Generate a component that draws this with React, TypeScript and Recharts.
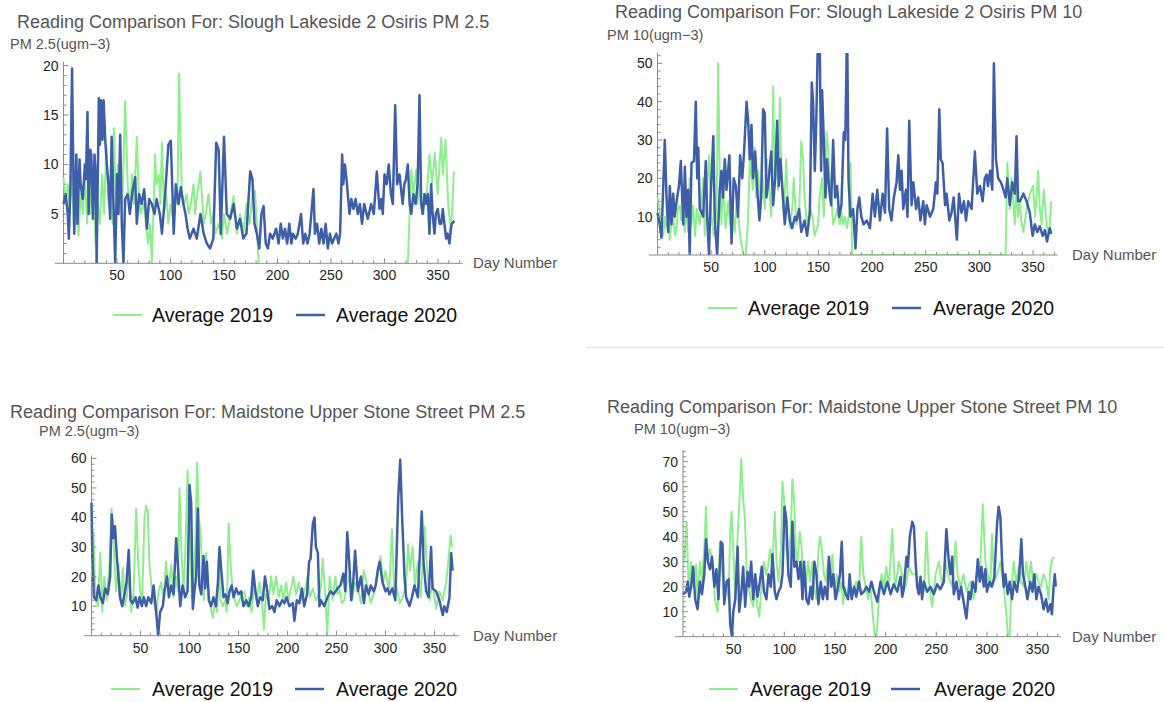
import React from 'react';
import { LineChart, Line, XAxis, YAxis, ReferenceLine } from 'recharts';

type Pt = [number, number | null];

// ---------- labels ----------
const PANEL_TITLES = [
  'Reading Comparison For: Slough Lakeside 2 Osiris PM 2.5',
  'Reading Comparison For: Slough Lakeside 2 Osiris PM 10',
  'Reading Comparison For: Maidstone Upper Stone Street PM 2.5',
  'Reading Comparison For: Maidstone Upper Stone Street PM 10',
];
const PANEL_Y_LABELS = ['PM 2.5(ugm\u22123)', 'PM 10(ugm\u22123)', 'PM 2.5(ugm\u22123)', 'PM 10(ugm\u22123)'];
const X_AXIS_LABEL = 'Day Number';
const SERIES_NAMES = ['Average 2019', 'Average 2020'];

// ---------- ticks ----------
const DAY_TICKS = [10, 20, 30, 40, 50, 60, 70, 80, 90, 100, 110, 120, 130, 140, 150, 160, 170, 180, 190, 200, 210, 220, 230, 240, 250, 260, 270, 280, 290, 300, 310, 320, 330, 340, 350, 360, 370];
const DAY_TICK_LABELS = [50, 100, 150, 200, 250, 300, 350];
const Y_TICKS_P1 = [1, 2, 3, 4, 5, 6, 7, 8, 9, 10, 11, 12, 13, 14, 15, 16, 17, 18, 19, 20];
const Y_LABELS_P1 = [5, 10, 15, 20];
const Y_TICKS_P2 = [2, 4, 6, 8, 10, 12, 14, 16, 18, 20, 22, 24, 26, 28, 30, 32, 34, 36, 38, 40, 42, 44, 46, 48, 50, 52];
const Y_LABELS_P2 = [10, 20, 30, 40, 50];
const Y_TICKS_P3 = [2, 4, 6, 8, 10, 12, 14, 16, 18, 20, 22, 24, 26, 28, 30, 32, 34, 36, 38, 40, 42, 44, 46, 48, 50, 52, 54, 56, 58, 60];
const Y_LABELS_P3 = [10, 20, 30, 40, 50, 60];
const Y_TICKS_P4 = [2, 4, 6, 8, 10, 12, 14, 16, 18, 20, 22, 24, 26, 28, 30, 32, 34, 36, 38, 40, 42, 44, 46, 48, 50, 52, 54, 56, 58, 60, 62, 64, 66, 68, 70, 72, 74];
const Y_LABELS_P4 = [10, 20, 30, 40, 50, 60, 70];

// ---------- data: [day, value] ----------
const slough25_2019: Pt[] = [[0,8.7],[2,6],[4,8],[6,5.5],[8,9],[10,3],[12,6],[14,2.8],[16,7],[18,5],[20,9],[22,4],[24,10],[26,5],[28,8],[30,2],[32,6],[34,4],[36,9],[38,5],[40,12],[42,6],[44,9],[46,4],[47,13.7],[49,7],[51,10],[53,10],[55,6],[57.6,16.4],[60,8],[62,5],[64,9],[66,6],[68.5,12.8],[70,8],[72,5],[75,6],[77,4],[79,2],[81,4],[82.5,0],[84,5],[85.6,11],[87,8],[89,9],[90.5,6],[92,12.2],[94,5],[96,7],[98,4],[100,6],[103,4],[105,7],[106.5,6],[108,19.2],[110.6,7],[113,6],[115,7],[117,5],[119,6],[121.5,8],[123,5],[125,7],[128,9.3],[131,4],[133,5],[135.5,7],[138,4],[140,5],[142,3],[145,4],[148,2.5],[150,5],[153,3],[156,5],[159,6.8],[162,3],[165,5],[168,3],[171,6],[174,4],[177,7.5],[179,7.3],[181,3],[182.5,0],[250,null],[321.8,0],[325,9.5],[327,7],[329.6,9.5],[331,6],[333,8],[335,5],[337,7],[339,6],[342,11],[344.5,8],[347,11.2],[349.8,7],[353,12.7],[354.5,9],[357,12.5],[359.5,6],[362.3,3],[364.8,9.3]];
const slough25_2020: Pt[] = [[0,6],[2,7],[4,5],[5,2.5],[6.5,8],[8,19.7],[9,11],[10,3],[12,11],[13,4],[15,10.5],[16,8],[18,6.5],[20,10],[21,8.5],[22.4,15.3],[23.5,5],[25,11.5],[26,11],[27.5,4.5],[29,11],[30,9],[31,0],[33,16.7],[34,12],[35,16.5],[36.4,12.5],[37.5,16.5],[39,12.5],[40.5,10],[42,8],[43.6,4.5],[45,12.8],[46.7,6],[48.3,0],[50,9],[51.4,5],[53,13],[54.5,4],[56,0],[57.6,6.5],[60,7],[62,5],[64.5,7.3],[67,8.7],[68.5,4],[70.7,7],[73,6],[75.4,7.5],[78,3.5],[80,6.5],[82.5,6],[85,5],[87,6.5],[90,5],[92,3],[95,7],[98,12],[100.3,12.4],[103,3],[105,8],[107.5,6],[109.7,7.7],[112,6],[114,5],[116,3.5],[118,2.5],[121.5,3.5],[124.6,2.5],[128,5],[131,3],[134,2],[137,1.5],[140,2.5],[142.7,12.2],[145,11.5],[147,3],[150,12.8],[152.6,5],[155.8,4.5],[159,6],[162,3.5],[165,4.5],[168,2.5],[171,3],[174.5,9.3],[176.6,8.5],[178.5,4],[180.7,3],[183,1.5],[185,5],[187,5.8],[189,2],[191,1.5],[193,3],[195.6,2.5],[198.7,3.5],[201,2],[203,4],[205,2.5],[207,3.5],[209,2],[211,4],[213,2],[214.3,3],[217,2.5],[219,3],[222,5],[224,2],[226,3],[228,2],[230,3],[233.6,7.5],[235,3],[237,4],[239,2],[241,3.5],[243,2],[245,4],[247,1.5],[249,3],[251,2],[253,2.5],[255,3],[257,2],[258.5,3],[260.4,11],[261.5,8],[263,10],[264.5,8.5],[267.3,5],[269,6.5],[271,5.5],[273,6.5],[275,5],[277,6],[279,4],[281,6],[284.4,4.5],[287.5,6],[290,5],[292.8,9.3],[295.3,5.5],[297,6.5],[298.4,5],[300,9],[302,8],[304,10],[306,7],[307.8,6],[310,16],[311.8,8],[314,9],[317,6],[318.5,8],[320,8.5],[321.8,10],[323.5,6],[325,5],[327,7],[329,6],[331,8],[332.7,17],[334.3,6],[335.8,5],[337.5,7],[339,6],[340.5,7],[342,3],[343.6,8],[345,5],[346.7,3],[348,5],[349.8,5.5],[351.5,4],[353,4],[354.5,5.5],[356,4],[357.6,2.5],[359,3],[360.7,2],[362,3.5],[362.9,4],[365.4,4.3]];

const slough10_2019: Pt[] = [[0,15],[1.5,13],[3,8],[5.3,5],[7,10],[8.4,7],[10,9],[11.5,4],[13,8],[14.6,10],[16.5,5],[17.7,7],[19,12],[20.8,13],[22,9],[24,10],[25.5,6],[27,13],[28.6,6],[30,20],[31.7,8],[33.3,13],[35,5],[36.6,12],[39.4,8],[42.5,20],[44,5],[45.6,15],[48,26],[50.3,10],[52.5,5],[55,10],[56.5,50],[58,20],[59.6,8],[61,20],[63.4,7],[66,14],[67.4,8],[70,12],[72,6],[74,15],[76,8],[78,3],[80.4,0],[82.3,0],[84.5,10],[86,25],[89,17],[90.7,28],[92,15],[93.8,22],[96,12],[97.8,21],[100,12],[102,25],[104.7,15],[106,10],[107.8,44],[109.3,20],[111,25],[112.4,17],[114,41],[115.5,20],[117.7,10],[120,25],[121.7,12],[123.3,7],[125.5,12],[127,20],[129.5,8],[132,11],[134,29.7],[135.7,25],[137,15],[139.4,8],[142,12],[144.4,10],[146.6,5],[149.7,8],[151,15],[153.4,20],[155,10],[157.5,32],[159,28],[160.6,20],[162,15],[163.7,8],[166,10],[167.4,12],[170,8],[171.4,11],[173,8],[174.5,10],[176.7,7],[178.6,11],[180,24],[181.4,0],[324.4,0],[326,24],[328.4,12],[330,20],[331.6,14],[333,8],[334.6,18],[336,10],[337.7,14],[339,9],[341,6],[344,12],[347,16],[350,18],[352,10],[354.8,22],[356.3,12],[358,8],[360,17],[362,10],[364,5],[365.6,8],[367,14]];
const slough10_2020: Pt[] = [[0,11],[2,8],[3.7,4.5],[6.8,30],[8.4,15],[10,6],[11.5,18],[13,8],[14.6,16],[16,10],[18.3,15],[20,18],[21.7,24.5],[24,8],[25.5,23],[27,10],[28.6,17],[30,0],[31.7,24],[34,24.5],[35.7,40],[37,20],[38,28],[39.4,12],[41.3,11],[42.5,10],[45,24.5],[46.3,10],[48,0],[49.4,14],[52,31],[53.4,9],[55.6,0],[58,17],[59.6,22],[61,15],[62.7,25],[64.3,17],[67,26],[69,3],[71,20],[73,18],[75,10],[77,26],[79,20],[80.7,27],[83,40],[84.5,35],[86,25],[87.6,34],[89,20],[91,27],[93,17],[95,9],[96.6,15],[98.4,38],[100,37],[101.5,15],[103.7,20],[106,27],[107.8,13],[109.6,20],[111.5,35],[113,18],[114.6,25],[116.5,17],[118.6,8],[121,15],[123.3,9],[125.5,7],[128,10],[129.5,9],[132,12],[134,6],[137,9],[139.4,5],[142,11],[143.8,45],[145,40],[146.6,22],[148,35],[149.7,60],[151,60],[152.5,22],[153.4,43],[155,30],[156.5,15],[158,25],[160,17],[161.8,13],[163.7,30],[165.5,15],[167.4,18],[169.3,10],[171.4,13],[173.6,32],[175,30],[176.7,60],[178,20],[179.8,10],[182.3,12],[184.5,1.7],[186.3,12],[188,15],[190,10],[192,8],[195,9],[198,7],[200.5,16],[202.6,10],[204.8,17],[207.3,9],[209.8,16],[212,11],[214,33],[215.9,12],[218,9],[220.3,15],[222.8,19],[224.4,26],[226,17],[227.5,22],[229,12],[231.5,17],[233,10],[234.6,35],[236.8,13],[238.4,19],[241,12],[243,15],[245,9],[247.7,14],[249.2,8],[250.8,13],[254,10],[257,12],[259.5,19],[260.8,16],[262.6,38],[264,25],[265.7,24],[268,13],[269.4,16],[272,9],[274,11],[276,15],[279,4],[281,16],[283.3,11],[285.6,14],[287.5,9],[289.6,14],[292.7,12],[295.8,27],[298,16],[300.5,18],[303,14],[305,20],[306.7,21],[308,18],[310,22],[312,17],[313.5,50],[315.4,25],[317.5,20],[320,19],[322.5,17],[324.4,15],[326,20],[328.4,13],[330.6,19],[333,16],[334.6,31],[336,14],[337.7,14],[341,16],[344,14],[347,11],[349.6,5],[351.7,8],[354,6],[356.3,7.5],[359,5],[361,6.5],[363,3.5],[365.6,7],[367,5.5]];

const maid25_2019: Pt[] = [[0,20],[2,35],[4,13],[6.5,10],[9,28],[11,8],[13,20],[15.6,12],[18.4,25],[20.4,43],[22.8,30],[25,15],[27.5,24],[30,11],[32,23],[33.7,10],[36,13],[38,22],[40.5,8],[43,15],[45.6,43],[47.6,25],[49.7,15],[51.7,12],[54,40],[55.8,44],[57.5,42],[59,25],[61.6,15],[64.3,10],[66,7],[68.4,15],[71,18],[73.5,12],[76,25],[78.6,15],[81.3,24],[83.7,13],[86.4,20],[88,15],[89.8,50],[91.8,28],[93.9,15],[95.9,30],[98,56],[100,40],[102.4,12],[104,17],[105.8,30],[107.8,58.5],[109.5,40],[111.2,35],[113,22],[114.6,12],[117,28],[119,17],[121.4,10],[123.8,6],[126,12],[128.2,8],[130,28],[131.6,12],[134,10],[136.4,12],[138,8],[140,38],[141.8,25],[144,15],[146,12],[148.3,10],[151,12],[153.4,14],[156,15],[158.5,10],[161,13],[163.5,8],[166,17],[168.7,12],[171.4,18],[173.8,13],[175.9,2],[178,14],[181,12],[183.3,20],[185.7,14],[188.4,20],[191,13],[193.5,17],[195.9,12],[198.6,18],[201,12],[203.7,16],[206,20],[208.8,14],[211.6,18],[215,12],[218,16],[220.5,20],[223,13],[225.9,16],[229,12],[232,14],[234,16],[235.9,26],[238.5,14],[240.5,0.5],[243,20],[246,12],[248.9,20],[251,14],[253,16],[255.5,11],[258,12],[260.5,17],[263,20],[266,12],[269,18],[271.8,16],[275,11],[278,22],[282,16],[285,11],[288.7,15],[292,20],[295,27],[297.5,18],[300,22],[303.7,15],[306.6,36],[309,14],[311.7,16],[314.5,11],[317.6,13],[321,17],[323,31],[325,22],[327.6,30],[330,17],[333,25],[336,13],[340,37],[342,25],[344.9,12],[348,18],[351.7,9],[355,15],[358.4,12],[361.9,18],[364.6,27],[366.5,34],[368,30]];
const maid25_2020: Pt[] = [[0,45],[0.7,30],[2.4,13],[4.8,12],[7,17],[9,13],[11.6,11],[14,16],[16.7,14],[19,20],[20.7,41],[22.4,33],[24,37],[25.8,27],[27.5,20],[29,13],[31.3,10],[33.7,14],[35.7,18],[38,29],[39.8,12],[42,11],[44.9,13],[47,9.5],[49,13],[51.4,10],[53.4,13],[55.8,10],[58,13],[61,11],[63.3,17],[66,8],[68,0],[70,8],[72.8,10],[74.5,15],[77,20],[79,13],[81.3,17],[83.7,14],[86.4,33],[88,25],[90.5,10],[93,17],[95.6,13],[98,15],[100,51],[101.7,45],[103.4,9],[105,15],[106.8,20],[108.5,43],[110,17],[112,14],[114.3,27],[116,16],[117.7,25],[119.7,12],[122,10],[124.5,13],[127,10],[129,18],[130.6,30],[133,20],[134.7,13],[136.7,14],[139,11],[140.8,15],[143,17],[145,13],[147.6,16],[150,14],[152.7,15],[155,10],[157.8,12],[160.5,10],[163,13],[165,22],[167.3,15],[169.7,10],[172,13],[174.8,12],[177,20],[179,16],[181.6,9],[184.4,10],[186.7,8],[189,12],[191.8,10],[194.6,12],[197,11],[199,13],[202,10],[205.4,11],[207,5],[209.5,12],[212,11],[214.8,16],[217,10],[220,14],[222,25],[223.5,26],[225.9,38],[227.6,40],[229,30],[231,28],[232.6,10],[234,12],[237.5,10],[240.8,13],[244,15],[247,14],[251,16],[254,17],[257,21],[259,15],[261,35],[263,25],[265,12],[267,18],[269,28.7],[271.8,15],[275,20],[278,11],[280,17],[282.9,14],[285,17],[288,15],[290,17],[292,22],[294,25],[297,18],[300,15],[302,16],[304,14],[307,16],[310,12],[312.9,46],[315,59.5],[317,40],[319.4,20],[321,13],[324.5,10],[327,13],[329.6,17],[333,13],[337,42],[338.8,25],[341.5,15],[344,13],[346.5,30],[348,16],[351.7,15],[355,12],[358.4,7],[360,10],[362.5,8],[365.3,13],[367,28],[368.5,22]];

const maid10_2019: Pt[] = [[0,30],[1.3,30],[3.6,46],[5.6,18],[8,30],[10,20],[12.8,29],[14.4,15],[16.7,30],[18.7,22],[21,35],[22.7,52],[24.3,30],[26.6,35],[29.2,30],[31.5,15],[34.2,10],[36.5,38],[38.4,28],[40.7,15],[43,20],[45,15],[46.6,42],[48,50],[49.6,35],[51.6,15],[53.9,40],[55.5,52],[57.5,71],[59.4,55],[61,48],[63,25],[64.7,20],[67,15],[69.3,12],[71.3,20],[73.6,12],[75.2,8],[77.5,20],[80,30],[81.8,25],[84,28],[86,35],[88.3,28],[90.6,50],[92.3,30],[94.3,22],[96.6,35],[98.2,62],[99.8,55],[102,35],[104,30],[106.4,42],[108,63],[109.7,55],[111.3,35],[113,30],[115.3,42],[117.2,35],[118.9,25],[121.2,20],[123.5,30],[125.5,22],[127.7,30],[129.4,20],[131.7,15],[133.7,35],[135.3,40],[137,35],[139.2,25],[140.9,22],[143.2,30],[145,20],[147.5,33],[149.7,15],[151.7,25],[154,18],[156.3,22],[158,13],[160,20],[162.3,15],[164.5,22],[166.5,18],[169,20],[171.1,22],[173.7,18],[176,40],[178,25],[180.3,20],[183,15],[185.2,20],[187.5,8],[189.5,0],[191,0],[193.4,15],[196,25],[198.4,20],[200.7,28],[203.3,20],[206.6,43],[209.2,20],[210.5,22],[213,30],[216.4,25],[219.7,20],[223,28],[226.3,25],[229.6,25],[232.8,20],[237.8,18],[240.4,42],[242.7,22],[246,12],[249.3,25],[252.6,30],[256,20],[259,30],[261.4,25],[265.7,20],[269,38],[271,25],[274,20],[277,25],[280,18],[283.7,22],[287,15],[290,25],[293.6,30],[296,53],[298.5,30],[300.8,25],[303.4,20],[305,41],[307.4,22],[310,25],[313.3,30],[316.6,20],[319,10],[320.8,0],[322.5,0],[324.2,20],[326.5,30],[328.7,22],[331.4,28],[333.7,22],[336.3,20],[339,30],[341.2,22],[343.5,30],[346,20],[348.8,25],[351,22],[353.4,20],[356,25],[358.6,22],[360.9,15],[362.6,27],[364.5,31],[366.5,32]];
const maid10_2020: Pt[] = [[0,17],[3,18],[4.6,22],[6.2,16],[8,20],[10,28],[12,15],[14.4,11],[16.7,22],[18.7,17],[21,25],[22.7,39],[24.6,30],[26.6,27],[28.6,32],[31,20],[33,27],[35,15],[37.4,38],[39,37],[40.7,13],[43,22],[45,23],[46.6,5],[48.3,0],[49.6,10],[51.6,15],[53.9,36],[55.5,10],[57.5,17],[59.4,28],[61.4,12],[63.7,26],[65.4,20],[67.3,30],[69.3,15],[71.3,25],[73.6,16],[75.9,22],[77.8,28],[80,18],[82.4,15],[84.4,25],[86.7,20],[88.3,33],[90.6,18],[92.3,15],[94.3,18],[96.6,20],[98.2,25],[100.2,52],[102,47],[104,25],[106.4,20],[108,46],[110,28],[112,30],[114,23],[116,30],[118,15],[119.5,30],[121.8,15],[123.8,13],[126,20],[127.7,15],[129.7,30],[131.7,25],[133.7,13],[136,22],[138,15],[140,20],[142.5,15],[144,32],[146.5,20],[148.4,25],[150.7,15],[153,20],[155,25],[156.7,38],[158.3,20],[160.6,17],[163,15],[164.5,25],[166.5,15],[169,20],[171,16],[173.7,22],[176,17],[178.6,18],[181,20],[183.6,18],[186,22],[188.5,18],[191.8,14],[195,22],[198.4,17],[201.6,22],[205,17],[208,21],[211.5,18],[214.8,24],[216.4,16],[218,19],[220.6,32],[222,28],[223.9,40],[226.3,46],[228,44],[229.6,30],[231.2,20],[232.8,17],[234.5,24],[236,15],[237.8,22],[241,18],[244.3,20],[247.6,17],[250.9,21],[254,19],[257.5,22],[260,43],[262.4,30],[264,25],[265.7,32],[267.3,17],[270,22],[272.3,15],[274.5,20],[277,14],[279.8,7.3],[282,18],[283.7,15],[286,22],[288.7,18],[291,31],[293,22],[294.6,28],[296.9,20],[298.5,27],[300,18],[302.8,22],[305,20],[307.4,24],[310,45],[311.6,52],[313.3,48],[315,30],[316.6,20],[318.2,25],[320.5,17],[322.5,22],[324.8,15],[327,22],[329.7,18],[332,25],[334,39],[335.6,25],[338,20],[340,15],[342.8,22],[345,18],[346.8,25],[348.8,15],[351,20],[353.4,17],[356,11],[358.3,15],[360.3,10],[362.6,13],[364.2,9],[365.8,20],[367,25],[368,20]];

// ---------- style ----------
const GREEN = '#8eee8e';
const BLUE = '#3e5fa8';
const AXIS = '#8c8c8c';
const TICK_TEXT = '#262626';
const LABEL_TEXT = '#555555';
const FONT = '"Liberation Sans", Arial, Helvetica, sans-serif';
const Y_AXIS_W = 40;
const X_AXIS_H = 25;

interface Cfg {
  left: number; top: number; width: number; height: number;
  x0: number; ppd: number; xMin: number; xMax: number;
  yZero: number; yTop: number; yMax: number;
  yTicks: number[]; yLabels: number[];
  titleX: number; titleY: number; yLabX: number; yLabY: number;
  dayX: number;
  legY: number; legG: number; legGT: number; legB: number; legBT: number;
}

const PANELS: Cfg[] = [
  { left: 0, top: 40, width: 585, height: 260, x0: 63.5, ppd: 1.07, xMin: -8, xMax: 373, yZero: 263.3, yTop: 61.7, yMax: 20.4, yTicks: Y_TICKS_P1, yLabels: Y_LABELS_P1, titleX: 17, titleY: 28.3, yLabX: 10, yLabY: 49, dayX: 473, legY: 315, legG: 113, legGT: 152, legB: 296, legBT: 336 },
  { left: 590, top: 40, width: 574, height: 250, x0: 657.5, ppd: 1.073, xMin: -8, xMax: 373, yZero: 255, yTop: 53, yMax: 52.7, yTicks: Y_TICKS_P2, yLabels: Y_LABELS_P2, titleX: 615, titleY: 18.3, yLabX: 607, yLabY: 39.5, dayX: 1072, legY: 308, legG: 708, legGT: 748, legB: 892, legBT: 933 },
  { left: 0, top: 440, width: 585, height: 230, x0: 91.5, ppd: 0.98, xMin: -8, xMax: 375, yZero: 635.7, yTop: 455.4, yMax: 61, yTicks: Y_TICKS_P3, yLabels: Y_LABELS_P3, titleX: 10, titleY: 418.3, yLabX: 39, yLabY: 436, dayX: 473, legY: 689, legG: 111, legGT: 152, legB: 295, legBT: 336 },
  { left: 590, top: 440, width: 574, height: 230, x0: 683, ppd: 1.013, xMin: -8, xMax: 373, yZero: 636.7, yTop: 450, yMax: 74.7, yTicks: Y_TICKS_P4, yLabels: Y_LABELS_P4, titleX: 607, titleY: 413.3, yLabX: 634, yLabY: 434, dayX: 1072, legY: 689, legG: 709, legGT: 750, legB: 891, legBT: 934 },
];

const SERIES: [Pt[], Pt[]][] = [
  [slough25_2019, slough25_2020],
  [slough10_2019, slough10_2020],
  [maid25_2019, maid25_2020],
  [maid10_2019, maid10_2020],
];

const XTick = (props: any) => {
  const { x, y, payload } = props;
  const v = payload.value as number;
  const major = DAY_TICK_LABELS.includes(v);
  return (
    <g>
      <line x1={x} x2={x} y1={y} y2={y - (major ? 5 : 3)} stroke={AXIS} strokeWidth={1} />
      {major && (
        <text x={x} y={y + 17} textAnchor="middle" fontSize={14} fill={TICK_TEXT} fontFamily={FONT}>{v}</text>
      )}
    </g>
  );
};

const makeYTick = (offset: number, labels: number[]) => (props: any) => {
  const { x, y, payload } = props;
  const v = payload.value as number;
  const ax = x + offset;
  const major = labels.includes(v);
  if (v === 0) return <g />;
  return (
    <g>
      <line x1={ax} x2={ax + (major ? 5 : 3)} y1={y} y2={y} stroke={AXIS} strokeWidth={1} />
      {major && (
        <text x={ax - 5} y={y + 5} textAnchor="end" fontSize={14} fill={TICK_TEXT} fontFamily={FONT}>{v}</text>
      )}
    </g>
  );
};

const toRows = (s: Pt[]) => s.map(([d, v]) => ({ d, v }));

function Panel({ cfg, s19, s20 }: { cfg: Cfg; s19: Pt[]; s20: Pt[] }) {
  const plotLeft = cfg.x0 + cfg.xMin * cfg.ppd;
  const plotRight = cfg.x0 + cfg.xMax * cfg.ppd;
  const margin = {
    left: plotLeft - cfg.left - Y_AXIS_W,
    right: cfg.left + cfg.width - plotRight,
    top: cfg.yTop - cfg.top,
    bottom: cfg.top + cfg.height - cfg.yZero - X_AXIS_H,
  };
  const yOffset = -cfg.xMin * cfg.ppd;
  return (
    <div style={{ position: 'absolute', left: cfg.left, top: cfg.top }}>
      <LineChart width={cfg.width} height={cfg.height} margin={margin}>
        <XAxis
          type="number"
          dataKey="d"
          domain={[cfg.xMin, cfg.xMax]}
          ticks={DAY_TICKS}
          interval={0}
          height={X_AXIS_H}
          tickSize={0}
          tickMargin={0}
          tickLine={false}
          axisLine={{ stroke: AXIS, strokeWidth: 1 }}
          tick={XTick}
          allowDataOverflow
        />
        <YAxis
          type="number"
          domain={[0, cfg.yMax]}
          ticks={cfg.yTicks}
          interval={0}
          width={Y_AXIS_W}
          tickSize={0}
          tickMargin={0}
          tickLine={false}
          axisLine={false}
          tick={makeYTick(yOffset, cfg.yLabels)}
          allowDataOverflow
        />
        <ReferenceLine x={0} stroke={AXIS} strokeWidth={1} />
        <Line data={toRows(s19)} dataKey="v" type="linear" stroke={GREEN} strokeWidth={2} dot={false} isAnimationActive={false} strokeLinejoin="round" />
        <Line data={toRows(s20)} dataKey="v" type="linear" stroke={BLUE} strokeWidth={2.5} dot={false} isAnimationActive={false} strokeLinejoin="round" />
      </LineChart>
    </div>
  );
}

export default function App() {
  return (
    <div style={{ position: 'absolute', left: 0, top: 0, width: 1164, height: 702, background: '#fff', overflow: 'hidden', fontFamily: FONT }}>
      {PANELS.map((cfg, i) => (
        <Panel key={i} cfg={cfg} s19={SERIES[i][0]} s20={SERIES[i][1]} />
      ))}
      <svg width={1164} height={702} style={{ position: 'absolute', left: 0, top: 0, pointerEvents: 'none' }}>
        <line x1={586} x2={1164} y1={347.5} y2={347.5} stroke="#e4e4e4" strokeWidth={1.5} />
        {PANELS.map((cfg, i) => (
          <g key={i} fontFamily={FONT}>
            <text x={cfg.titleX} y={cfg.titleY} fontSize={18} fill={LABEL_TEXT}>{PANEL_TITLES[i]}</text>
            <text x={cfg.yLabX} y={cfg.yLabY} fontSize={14.5} fill={LABEL_TEXT}>{PANEL_Y_LABELS[i]}</text>
            <text x={cfg.dayX} y={cfg.yZero + 5} fontSize={15} fill={LABEL_TEXT}>{X_AXIS_LABEL}</text>
            <line x1={cfg.legG} x2={cfg.legG + 29} y1={cfg.legY} y2={cfg.legY} stroke={GREEN} strokeWidth={2} />
            <text x={cfg.legGT} y={cfg.legY + 6.5} fontSize={19.5} fill="#111">{SERIES_NAMES[0]}</text>
            <line x1={cfg.legB} x2={cfg.legB + 29} y1={cfg.legY} y2={cfg.legY} stroke={BLUE} strokeWidth={2.5} />
            <text x={cfg.legBT} y={cfg.legY + 6.5} fontSize={19.5} fill="#111">{SERIES_NAMES[1]}</text>
          </g>
        ))}
      </svg>
    </div>
  );
}
